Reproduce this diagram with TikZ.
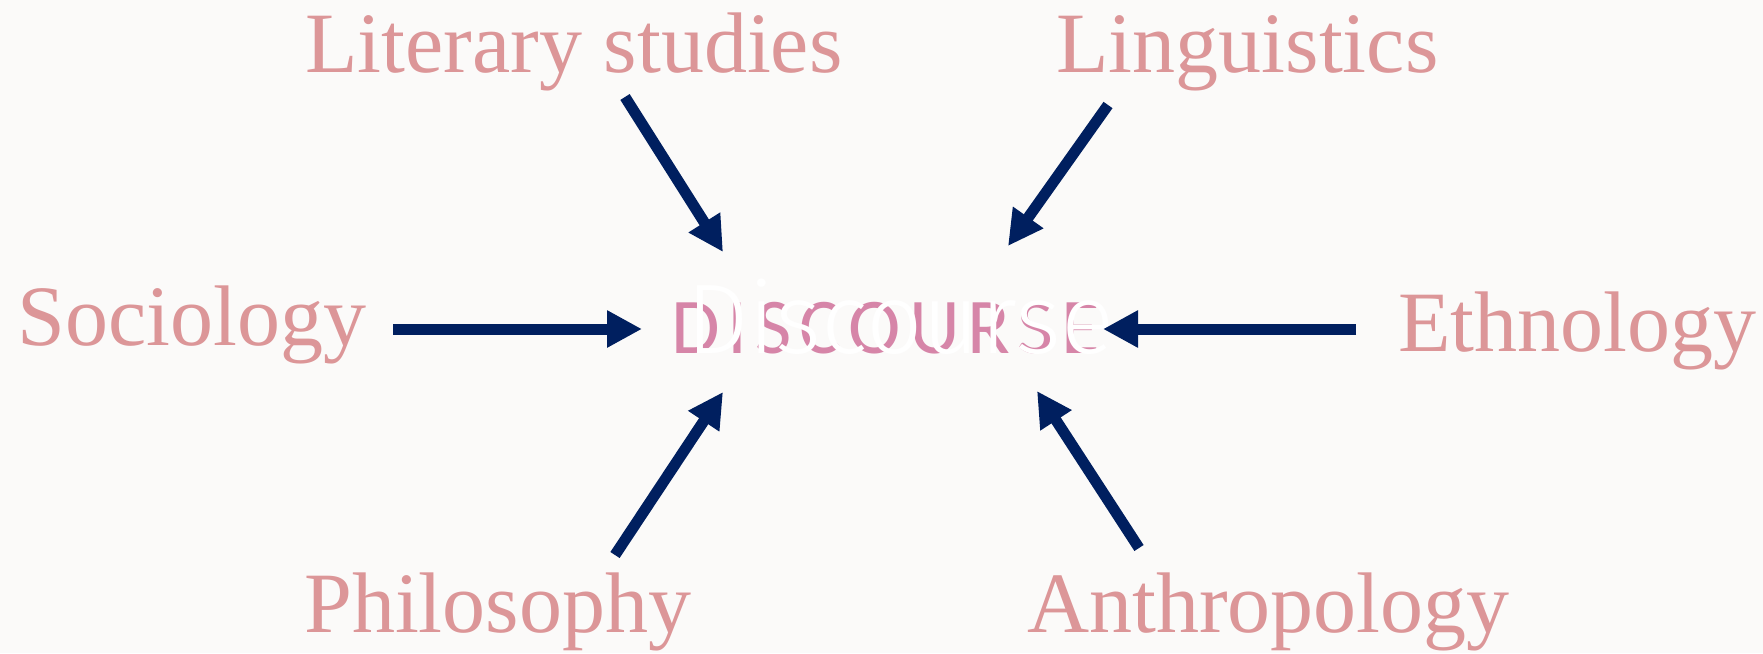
\documentclass[tikz,border=0pt]{standalone}
\usepackage{fontspec}
\setmainfont{Liberation Serif}
\newfontfamily\discfont{Fira Sans Light}
\newfontfamily\discspaced[LetterSpace=10]{Carlito}
\usetikzlibrary{arrows.meta}
\definecolor{bg}{RGB}{251,250,249}
\definecolor{labelpink}{RGB}{220,150,152}
\definecolor{discpink}{RGB}{214,133,168}
\definecolor{navy}{RGB}{0,31,95}
\begin{document}
\begin{tikzpicture}[x=1pt,y=-1pt,
  field/.style={anchor=base west, inner sep=0pt, text=labelpink, font=\fontsize{86}{86}\selectfont},
  feed/.style={draw=navy, line width=11pt, -{Triangle[length=35pt,width=35pt]}}]
\fill[bg] (0,0) rectangle (1763,653);
\useasboundingbox (0,0) rectangle (1763,653);
% labels
\node[field] (lit) at (305,72) {Literary studies};
\node[field] (ling) at (1056,72) {Linguistics};
\node[field] (soc) at (17,345) {Sociology};
\node[field] (eth) at (1398,351) {Ethnology};
\node[field] (phil) at (304,632) {Philosophy};
\node[field] (anth) at (1027,632) {Anthropology};
% centre
\node[anchor=base west, inner sep=0pt, text=discpink, font=\discspaced\fontsize{79}{79}\selectfont] (discA) at (671,353) {DISCOURSE};
\node[anchor=base west, inner sep=0pt, text=white, font=\discfont\fontsize{99}{99}\selectfont] (discB) at (686,353) {Discourse};
% arrow ends
\coordinate (litS) at (625,97);   \coordinate (litE) at (723,252);
\coordinate (lingS) at (1108,105); \coordinate (lingE) at (1008,246);
\coordinate (socS) at (393,329);  \coordinate (socE) at (642,329);
\coordinate (ethS) at (1356,329); \coordinate (ethE) at (1103,329);
\coordinate (philS) at (615,555); \coordinate (philE) at (723,392);
\coordinate (anthS) at (1139,548); \coordinate (anthE) at (1037,391);
\draw[feed] (litS) -- (litE);
\draw[feed] (lingS) -- (lingE);
\draw[feed] (socS) -- (socE);
\draw[feed] (ethS) -- (ethE);
\draw[feed] (philS) -- (philE);
\draw[feed] (anthS) -- (anthE);
\end{tikzpicture}
\end{document}
